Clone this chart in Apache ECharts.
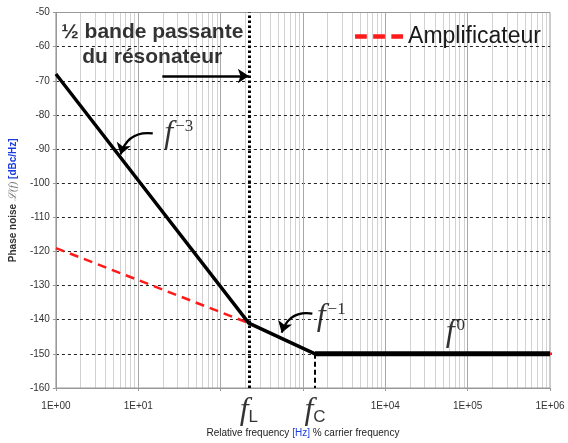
<!DOCTYPE html>
<html><head><meta charset="utf-8">
<script src="https://cdn.jsdelivr.net/npm/echarts@6/dist/echarts.min.js"></script>
<style>html,body{margin:0;padding:0;background:#fff}#c{width:568px;height:443px}</style>
</head><body><div id="c"></div>
<script>
// ---- data ----
const fL = 220, fC = 1400;
const resonatorX = [1, fL, fC];
const resonatorY = [-68, -141, -150];
const floorX = [fC, 1e6];
const floorY = [-150, -150];
const ampX = [1, fL, fC, 1e6, 1.2e6];
const ampY = [-119, -141, -150, -150, -150];
const xTickLabels = {1: '1E+00', 10: '1E+01', 100: '', 1000: '', 10000: '1E+04', 100000: '1E+05', 1000000: '1E+06'};
const freqMarks = [[fL, -160, 'L'], [fC, -160, 'C']];
const slopeLabels = [[31, -85.6, '−3'], [2200, -139.2, '−1'], [71000, -143.8, '0']];
const slopeArrows = [[[15, -85.4], [6.1, -91.6]], [[1300, -138.2], [552, -143.8]]];
const bandText = [14.8, -59.3, '½ bande passante\ndu résonateur'];
const bandArrow = [[19.6, -68.6], [fL, -68.6]];

const minorX = [];
for (let k = 0; k < 6; k++) for (let d = 2; d <= 9; d++) minorX.push(d * Math.pow(10, k));

const zip = (a, b) => a.map((v, i) => [v, b[i]]);

const chart = echarts.init(document.getElementById('c'), null, {renderer: 'canvas'});
const sans = 'Liberation Sans, Arial, sans-serif';
const serif = 'Liberation Serif, Times New Roman, serif';

chart.setOption({
  animation: false,
  grid: {left: 53, right: 18, top: 12.5, bottom: 55, show: true, borderColor: '#999', borderWidth: 1},
  legend: {
    data: [{name: 'Amplificateur', icon: 'path://M0,0H11V4H0Z M17,0H28V4H17Z M34,0H45V4H34Z'}],
    right: 22, top: 20,
    itemWidth: 48, itemHeight: 5, itemGap: 6,
    itemStyle: {color: '#ff1a1a', borderWidth: 0},
    lineStyle: {width: 0},
    textStyle: {fontSize: 23, color: '#1a1a1a', fontFamily: sans}
  },
  xAxis: {
    type: 'log', logBase: 10, min: 1, max: 1e6,
    axisLine: {lineStyle: {color: '#999'}},
    axisTick: {show: true, length: 3, lineStyle: {color: '#999'}},
    axisLabel: {fontSize: 10, color: '#333', fontFamily: sans, margin: 13,
      formatter: v => { const k = Math.round(v); return xTickLabels[k] !== undefined ? xTickLabels[k] : ''; }},
    splitLine: {show: true, showMinLine: false, showMaxLine: false, lineStyle: {color: '#a8a8a8', width: 1}},
    name: 'Relative frequency {u|[Hz]} % carrier frequency',
    nameLocation: 'middle', nameGap: 40,
    nameTextStyle: {fontSize: 10, color: '#222', fontFamily: sans,
      rich: {u: {fontSize: 10, color: '#1a3ce0', fontFamily: sans}}}
  },
  yAxis: {
    type: 'value', min: -160, max: -50, interval: 10,
    axisLine: {show: true, lineStyle: {color: '#999'}},
    axisTick: {show: true, length: 3, lineStyle: {color: '#999'}},
    axisLabel: {fontSize: 10, color: '#333', fontFamily: sans, margin: 6},
    splitLine: {show: true, showMinLine: false, showMaxLine: false, lineStyle: {color: '#222', width: 1, type: [3, 3]}},
    name: '{b|Phase noise} {i|ℒ(f)} {u|[dBc/Hz]}',
    nameLocation: 'middle', nameGap: 31, nameRotate: 90,
    nameTextStyle: {fontSize: 10, color: '#333', fontFamily: sans,
      rich: {b: {fontSize: 10, fontWeight: 'bold', color: '#333', fontFamily: sans},
             i: {fontSize: 11, fontStyle: 'italic', color: '#777', fontFamily: serif},
             u: {fontSize: 10, fontWeight: 'bold', color: '#1a3ce0', fontFamily: sans}}}
  },
  series: [
    { // minor vertical grid lines
      type: 'line', data: [], z: -1, silent: true,
      markLine: {silent: true, z: -1, symbol: ['none', 'none'], label: {show: false},
        lineStyle: {color: '#d2d2d2', width: 1, type: 'solid'},
        data: minorX.map(v => ({xAxis: v}))}
    },
    {
      name: 'Amplificateur', type: 'line', data: zip(ampX, ampY), clip: false, z: 3,
      showSymbol: false, symbol: 'none', color: '#ff1a1a',
      lineStyle: {color: '#ff1a1a', width: 2.5, type: [9, 6]}
    },
    {
      name: 'resonator', type: 'line', data: zip(resonatorX, resonatorY), z: 4,
      showSymbol: false, symbol: 'none', color: '#000',
      lineStyle: {color: '#000', width: 3.4},
      markLine: {silent: true, z: 4, symbol: ['none', 'none'], label: {show: false},
        data: [
          [{coord: [fL, -160], lineStyle: {color: '#000', width: 3, type: [2.5, 2.5]}}, {coord: [fL, -50]}],
          [{coord: [fC, -150], lineStyle: {color: '#000', width: 2, type: [5, 3]}}, {coord: [fC, -160]}]
        ]}
    },
    {
      name: 'floor', type: 'line', data: zip(floorX, floorY), z: 4,
      showSymbol: false, symbol: 'none', color: '#000',
      lineStyle: {color: '#000', width: 5}
    },
    { // straight arrow
      type: 'lines', coordinateSystem: 'cartesian2d', silent: true, z: 5,
      symbol: ['none', 'arrow'], symbolSize: [9, 11],
      lineStyle: {color: '#000', width: 2.5, type: 'solid', opacity: 1, curveness: 0},
      data: [{coords: bandArrow}]
    },
    { // curved arrows
      type: 'lines', coordinateSystem: 'cartesian2d', silent: true, z: 5,
      symbol: ['none', 'arrow'], symbolSize: [9, 11],
      lineStyle: {color: '#000', width: 2.2, type: 'solid', opacity: 1, curveness: -0.42},
      data: slopeArrows.map(a => ({coords: a}))
    },
    { // f_L, f_C labels
      type: 'scatter', data: freqMarks, symbolSize: 0, silent: true, clip: false, z: 6,
      label: {show: true, position: 'inside', offset: [0, 23],
        formatter: p => '{f|f}{s|' + p.data[2] + '}',
        rich: {f: {fontFamily: serif, fontStyle: 'italic', fontSize: 32, color: '#000'},
               s: {fontFamily: sans, fontSize: 17, color: '#000', padding: [12, 0, 0, 0]}}}
    },
    { // slope labels
      type: 'scatter', data: slopeLabels, symbolSize: 0, silent: true, clip: false, z: 6,
      label: {show: true, position: 'inside',
        formatter: p => '{f|f}{s|' + p.data[2] + '}',
        rich: {f: {fontFamily: serif, fontStyle: 'italic', fontSize: 32, color: '#000'},
               s: {fontFamily: serif, fontSize: 17, color: '#000', padding: [0, 0, 14, 2]}}}
    },
    { // band text
      type: 'scatter', data: [bandText], symbolSize: 0, silent: true, z: 6,
      label: {show: true, position: 'inside', formatter: p => p.data[2],
        fontFamily: sans, fontWeight: 'bold', fontSize: 21, lineHeight: 25, color: '#000', align: 'center'}
    }
  ]
});
</script></body></html>
